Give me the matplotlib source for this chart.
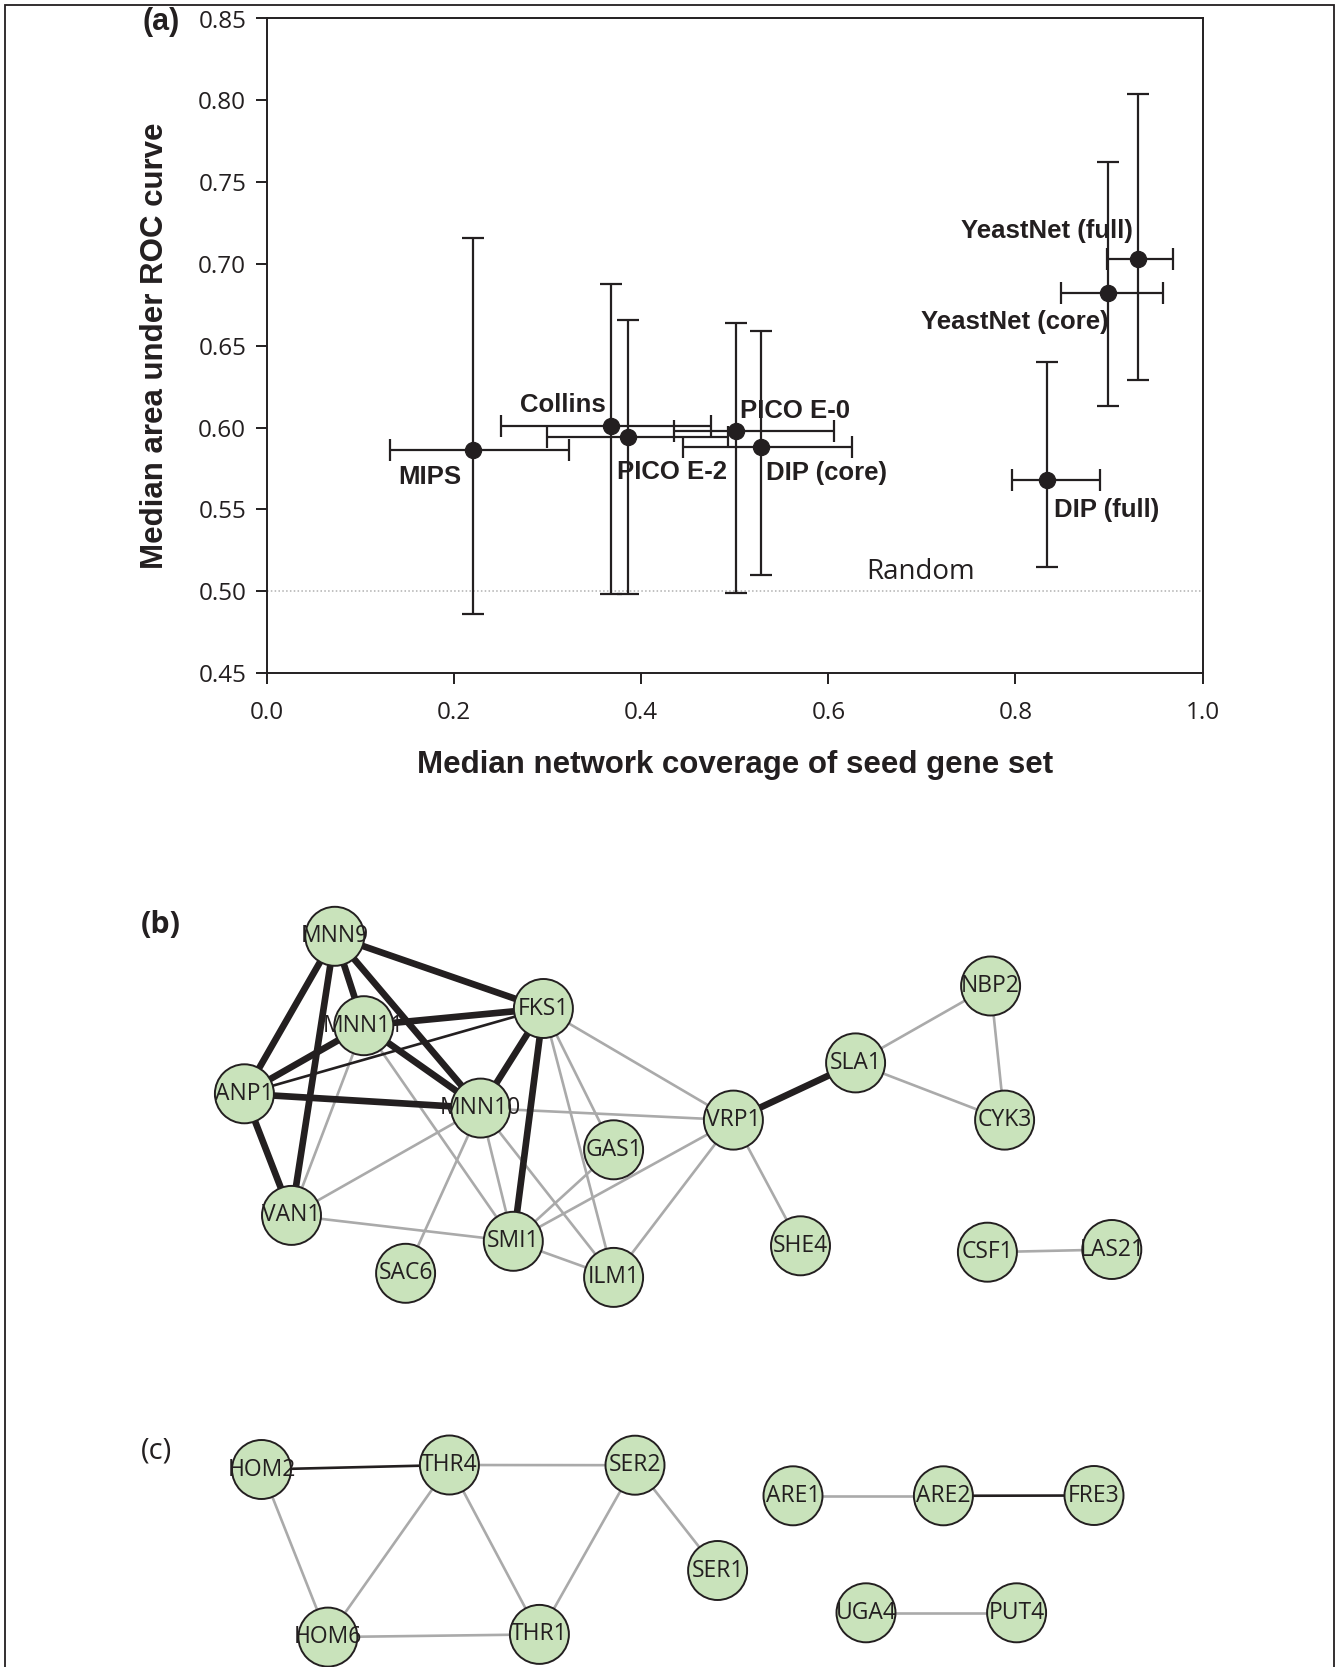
import matplotlib
matplotlib.use("Agg")
from matplotlib import pyplot as plt
from matplotlib.patches import Circle, Rectangle

# ---------- panel (a) data ----------
networks = ['MIPS', 'Collins', 'PICO E-2', 'PICO E-0', 'DIP (core)',
            'DIP (full)', 'YeastNet (core)', 'YeastNet (full)']
coverage = [0.220, 0.368, 0.386, 0.501, 0.528, 0.834, 0.899, 0.931]
cov_low = [0.131, 0.250, 0.299, 0.435, 0.445, 0.796, 0.849, 0.898]
cov_high = [0.323, 0.475, 0.493, 0.606, 0.625, 0.890, 0.958, 0.968]
auc = [0.586, 0.601, 0.594, 0.598, 0.588, 0.568, 0.682, 0.703]
auc_low = [0.486, 0.498, 0.498, 0.499, 0.510, 0.515, 0.613, 0.629]
auc_high = [0.716, 0.688, 0.666, 0.664, 0.659, 0.640, 0.762, 0.804]
random_auc = 0.5

# label placement (data coords)
label_pos = [(0.174, 0.570), (0.316, 0.614), (0.433, 0.573), (0.564, 0.610),
             (0.598, 0.572), (0.897, 0.5495), (0.799, 0.6646), (0.834, 0.720)]

# ---------- panels (b) and (c) data ----------
net_b_nodes = ['MNN9', 'MNN11', 'FKS1', 'ANP1', 'MNN10', 'VRP1', 'SLA1', 'NBP2',
               'CYK3', 'GAS1', 'VAN1', 'SMI1', 'SAC6', 'ILM1', 'SHE4', 'CSF1', 'LAS21']
net_b_x = [334.8, 363.8, 543.4, 244.4, 480.6, 733.4, 855.6, 990.6,
           1004.6, 613.6, 291.5, 513.3, 405.6, 613.6, 800.5, 987.4, 1111.8]
net_b_y = [936.3, 1025.7, 1008.5, 1093.8, 1108.1, 1120.1, 1062.9, 986.0,
           1120.1, 1149.8, 1215.4, 1241.3, 1273.3, 1277.4, 1245.8, 1252.2, 1249.5]
net_b_edges = [
    ('MNN9', 'FKS1', 'thick'), ('MNN9', 'ANP1', 'thick'), ('MNN9', 'VAN1', 'thick'),
    ('MNN9', 'MNN11', 'thick'), ('MNN9', 'MNN10', 'thick'), ('MNN11', 'FKS1', 'thick'),
    ('MNN11', 'ANP1', 'thick'), ('MNN11', 'MNN10', 'thick'), ('ANP1', 'FKS1', 'thin'),
    ('ANP1', 'MNN10', 'thick'), ('ANP1', 'VAN1', 'thick'), ('FKS1', 'MNN10', 'thick'),
    ('FKS1', 'SMI1', 'thick'), ('VRP1', 'SLA1', 'thick'),
    ('MNN11', 'VAN1', 'gray'), ('MNN11', 'SMI1', 'gray'), ('MNN10', 'VRP1', 'gray'),
    ('MNN10', 'VAN1', 'gray'), ('MNN10', 'SAC6', 'gray'), ('MNN10', 'SMI1', 'gray'),
    ('MNN10', 'ILM1', 'gray'), ('FKS1', 'VRP1', 'gray'), ('FKS1', 'GAS1', 'gray'),
    ('FKS1', 'ILM1', 'gray'), ('GAS1', 'SMI1', 'gray'), ('VRP1', 'SMI1', 'gray'),
    ('VRP1', 'ILM1', 'gray'), ('VAN1', 'SMI1', 'gray'), ('SMI1', 'ILM1', 'gray'),
    ('VRP1', 'SHE4', 'gray'), ('SLA1', 'NBP2', 'gray'), ('SLA1', 'CYK3', 'gray'),
    ('NBP2', 'CYK3', 'gray'), ('CSF1', 'LAS21', 'gray'),
]

net_c_nodes = ['HOM2', 'THR4', 'SER2', 'HOM6', 'THR1', 'SER1',
               'ARE1', 'ARE2', 'FRE3', 'UGA4', 'PUT4']
net_c_x = [261.5, 449.4, 635.0, 327.9, 539.4, 717.6, 793.0, 943.4, 1094.0, 866.0, 1016.6]
net_c_y = [1469.5, 1465.0, 1465.2, 1637.1, 1634.4, 1570.5, 1495.8, 1495.8, 1495.5, 1612.8, 1612.8]
net_c_edges = [
    ('HOM2', 'THR4', 'thin'), ('THR4', 'SER2', 'gray'), ('HOM2', 'HOM6', 'gray'),
    ('THR4', 'HOM6', 'gray'), ('THR4', 'THR1', 'gray'), ('SER2', 'THR1', 'gray'),
    ('SER2', 'SER1', 'gray'), ('HOM6', 'THR1', 'gray'), ('ARE1', 'ARE2', 'gray'),
    ('ARE2', 'FRE3', 'thin'), ('UGA4', 'PUT4', 'gray'),
]

dark = '#231f20'
edge_style = {'thick': (dark, 4.8), 'thin': (dark, 1.9), 'gray': ('#aaaaaa', 1.9)}
node_fill = '#c9e3bb'
node_r = 29.5

W, H = 1335, 1667
fig = plt.figure(figsize=(W / 100, H / 100), dpi=100)

bold = {'family': 'Liberation Sans', 'weight': 'bold'}

# ---------- panel (a) ----------
ax = fig.add_axes([267 / W, 1 - 673 / H, (1202.6 - 267) / W, (673 - 18.5) / H])
for i in range(len(networks)):
    ax.errorbar(coverage[i], auc[i],
                xerr=[[coverage[i] - cov_low[i]], [cov_high[i] - coverage[i]]],
                yerr=[[auc[i] - auc_low[i]], [auc_high[i] - auc[i]]],
                fmt='o', color=dark, ecolor=dark, elinewidth=1.6, capsize=8,
                capthick=1.6, markersize=11.5, zorder=3)
    ax.text(label_pos[i][0], label_pos[i][1], networks[i], ha='center', va='center',
            fontsize=18.5, color=dark, zorder=4, **bold)

ax.axhline(random_auc, color='#b0b0b0', lw=1.1, ls=(0, (1, 1.5)), zorder=1)
ax.text(0.699, 0.5118, 'Random', ha='center', va='center', fontsize=20,
        family='Open Sans', color=dark)

ax.set_xlim(0, 1.0)
ax.set_ylim(0.45, 0.85)
ax.set_xticks([0.0, 0.2, 0.4, 0.6, 0.8, 1.0])
ax.set_xticklabels(['0.0', '0.2', '0.4', '0.6', '0.8', '1.0'])
ax.set_yticks([0.45, 0.50, 0.55, 0.60, 0.65, 0.70, 0.75, 0.80, 0.85])
ax.set_yticklabels(['0.45', '0.50', '0.55', '0.60', '0.65', '0.70', '0.75', '0.80', '0.85'])
ax.tick_params(direction='out', length=8, width=1.4, colors=dark, labelsize=17.5)
ax.tick_params(axis='x', pad=12)
ax.tick_params(axis='y', pad=7)
for lab in ax.get_xticklabels() + ax.get_yticklabels():
    lab.set_family('Open Sans')
for sp in ax.spines.values():
    sp.set_linewidth(1.4)
    sp.set_color(dark)
ax.set_xlabel('Median network coverage of seed gene set', fontsize=22.5,
              color=dark, labelpad=18, **bold)
ax.set_ylabel('Median area under ROC curve', fontsize=22.5, color=dark,
              labelpad=20, **bold)

fig.text(161 / W, 1 - 22 / H, '(a)', ha='center', va='center', fontsize=22,
         color=dark, **bold)
fig.text(161 / W, 1 - 925 / H, '(b)', ha='center', va='center', fontsize=22,
         color=dark, family='Open Sans', weight='bold')
fig.text(157 / W, 1 - 1451 / H, '(c)', ha='center', va='center', fontsize=21,
         color=dark, family='Open Sans')

# ---------- panels (b) and (c): network drawings in pixel coordinates ----------
net = fig.add_axes([0, 0, 1, 1])
net.set_xlim(0, W)
net.set_ylim(H, 0)
net.axis('off')
net.patch.set_visible(False)


def draw_network(names, xs, ys, edges):
    pos = {n: (x, y) for n, x, y in zip(names, xs, ys)}
    for a, b, kind in edges:
        col, lw = edge_style[kind]
        net.plot([pos[a][0], pos[b][0]], [pos[a][1], pos[b][1]], color=col, lw=lw,
                 solid_capstyle='butt', zorder=1 if kind == 'gray' else 2)
    for n in names:
        net.add_patch(Circle(pos[n], node_r, facecolor=node_fill, edgecolor=dark,
                             lw=1.4, zorder=3))
        net.text(pos[n][0], pos[n][1], n, ha='center', va='center', fontsize=16.5,
                 family='Open Sans', color=dark, zorder=4)


draw_network(net_b_nodes, net_b_x, net_b_y, net_b_edges)
draw_network(net_c_nodes, net_c_x, net_c_y, net_c_edges)

# outer frame (open at the bottom)
fig.add_artist(Rectangle((5 / W, -0.05), (1334 - 5) / W, 1.05 - 5 / H,
                         transform=fig.transFigure, fill=False, lw=1.3,
                         edgecolor=dark))

fig.savefig('out.png', dpi=100)
